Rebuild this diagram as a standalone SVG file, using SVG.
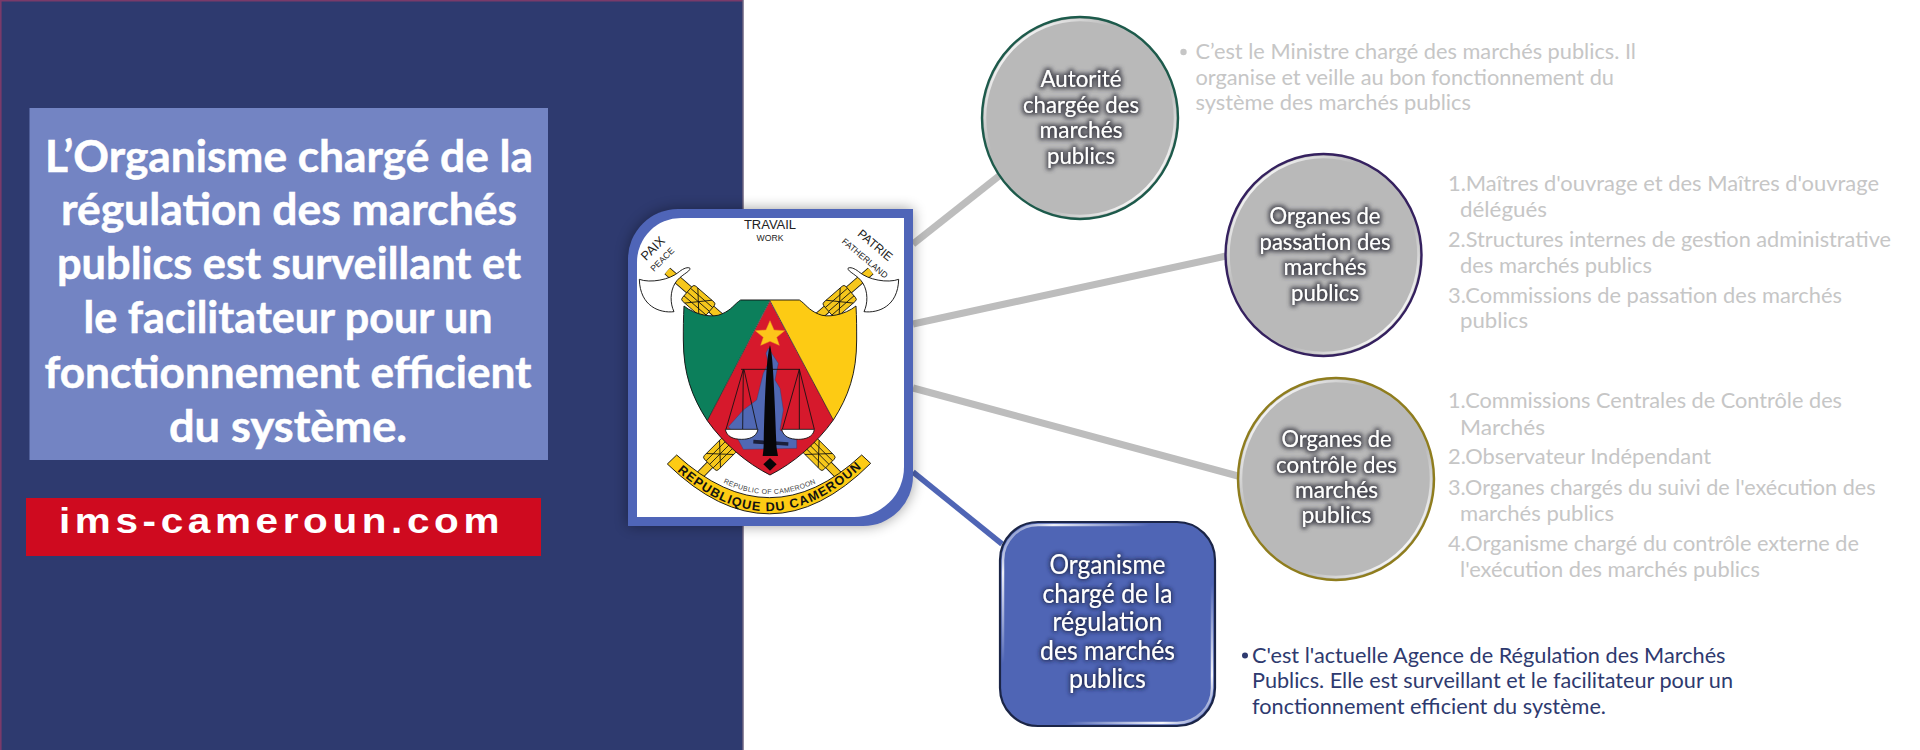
<svg xmlns="http://www.w3.org/2000/svg" width="1920" height="750" viewBox="0 0 1920 750">
<style>
text{font-family:Lato,"Liberation Sans",sans-serif}
.title{font-size:44px;font-weight:700;fill:#fff;text-anchor:middle;stroke:#fff;stroke-width:.5px}
.lab{font-size:23px;fill:#fff;text-anchor:middle;filter:url(#halo)}
.labw{font-size:26px;fill:#fff;text-anchor:middle;filter:url(#halob)}
.li{font-size:21px;fill:#c6c6c6}
.dk{font-size:21px;fill:#2e3a6f}
.bl{fill:#c6c6c6}
.con{stroke:#bdbdbd;stroke-width:7;fill:none}
.node{fill:#b9b9b9;stroke-width:2.4}
.ring{fill:none;stroke:url(#rim);stroke-width:2.5}
.ck{fill:none;stroke:#111;stroke-width:2.6}
.mot{fill:#222;font-family:"Liberation Sans",sans-serif}
.rib{fill:#111;font-family:"Liberation Sans",sans-serif;text-anchor:middle}
</style>
<defs>
<filter id="halo" x="-20%" y="-40%" width="140%" height="180%">
<feMorphology in="SourceAlpha" operator="dilate" radius="1.500" result="d"/>
<feGaussianBlur in="d" stdDeviation="2.200" result="b"/>
<feFlood flood-color="#3a3a44" flood-opacity=".85"/>
<feComposite in2="b" operator="in" result="s"/>
<feMerge><feMergeNode in="s"/><feMergeNode in="SourceGraphic"/></feMerge>
</filter>
<filter id="halob" x="-20%" y="-40%" width="140%" height="180%">
<feMorphology in="SourceAlpha" operator="dilate" radius="1" result="d"/>
<feGaussianBlur in="d" stdDeviation="2.200" result="b"/>
<feFlood flood-color="#1a2348" flood-opacity=".85"/>
<feComposite in2="b" operator="in" result="s"/>
<feMerge><feMergeNode in="s"/><feMergeNode in="SourceGraphic"/></feMerge>
</filter>
<filter id="frameS" x="-15%" y="-15%" width="130%" height="130%">
<feGaussianBlur stdDeviation="7"/>
</filter>
<linearGradient id="rim" x1="0" y1="0" x2="1" y2="1">
<stop offset="0" stop-color="#fff" stop-opacity=".1"/>
<stop offset=".12" stop-color="#fff" stop-opacity=".9"/>
<stop offset=".35" stop-color="#fff" stop-opacity="0"/>
<stop offset=".65" stop-color="#fff" stop-opacity="0"/>
<stop offset=".88" stop-color="#fff" stop-opacity=".95"/>
<stop offset="1" stop-color="#fff" stop-opacity=".1"/>
</linearGradient>
<g id="fasces">
<rect x="-44" y="-30" width="88" height="60" rx="8" fill="#f6c71c" stroke="#111" stroke-width="2.5"/>
<path d="M-44 -15H44M-44 0H44M-44 15H44M-28 -30L28 30M-28 30L28 -30" fill="none" stroke="#111" stroke-width="2.500"/>
</g>
<path id="arcS" d="M262 822Q450 942 636 822"/>
<path id="arcB" d="M150 793Q450 1080 748 780"/>
</defs>

<rect width="1920" height="750" fill="#fff"/>
<g id="left-panel">
<rect x="0" y="0" width="743" height="750" fill="#2e3a6f"/>
<path d="M.8 750V.8H743" fill="none" stroke="#7a3a6a" stroke-width="1.6"/>
<path d="M743 0V750" stroke="#6e6480" stroke-width="1.5"/>
</g>

<g id="title">
<rect x="29.500" y="108" width="518.500" height="352" fill="#7384c3"/>
<text class="title" x="289" y="172" textLength="488" lengthAdjust="spacingAndGlyphs">L’Organisme chargé de la</text>
<text class="title" x="289" y="225" textLength="456" lengthAdjust="spacingAndGlyphs">régulation des marchés</text>
<text class="title" x="289" y="279" textLength="464" lengthAdjust="spacingAndGlyphs">publics est surveillant et</text>
<text class="title" x="288" y="333" textLength="409" lengthAdjust="spacingAndGlyphs">le facilitateur pour un</text>
<text class="title" x="288" y="388" textLength="487" lengthAdjust="spacingAndGlyphs">fonctionnement efficient</text>
<text class="title" x="288" y="442" textLength="238" lengthAdjust="spacingAndGlyphs">du système.</text>
</g>

<g id="site">
<rect x="26" y="498" width="515" height="58" fill="#cf0a1f"/>
<text x="59" y="533" font-size="35" font-weight="700" fill="#fff" letter-spacing="4" textLength="445" lengthAdjust="spacingAndGlyphs" style="font-family:'Liberation Sans',sans-serif">ims-cameroun.com</text>
</g>

<g id="connectors">
<path class="con" d="M913 244L999 176"/>
<path class="con" d="M913 324L1226 256"/>
<path class="con" d="M913 388L1238 476"/>
<path class="con" d="M913 472L1002 544" style="stroke:#4f65b5;stroke-width:5.500"/>
</g>

<g id="crest">
<path d="M678 209H913V476A50 50 0 0 1 863 526H628V259A50 50 0 0 1 678 209Z" fill="#000" opacity=".38" filter="url(#frameS)"/>
<path d="M678 209H913V476A50 50 0 0 1 863 526H628V259A50 50 0 0 1 678 209Z" fill="#4f65b8"/>
<path d="M681 218H904V467A50 50 0 0 1 854 517H637V262A44 44 0 0 1 681 218Z" fill="#fff"/>
<g transform="translate(620 200) scale(.33333)">
<text class="mot" x="450" y="87" font-size="39" text-anchor="middle">TRAVAIL</text>
<text class="mot" x="450" y="124" font-size="26" text-anchor="middle">WORK</text>
<text class="mot" font-size="38" transform="translate(78 184) rotate(-45)">PAIX</text>
<text class="mot" font-size="26" transform="translate(102 216) rotate(-45)">PEACE</text>
<text class="mot" font-size="36" transform="translate(710 105) rotate(40)">PATRIE</text>
<text class="mot" font-size="26" transform="translate(664 127) rotate(40)">FATHERLAND</text>

<g id="axe-left">
<path d="M142 213L300 350" stroke="#111" stroke-width="26"/>
<path d="M142 213L300 350" stroke="#f6c71c" stroke-width="21"/>
<path d="M58 238C90 250 150 240 178 215C190 205 205 200 210 205C212 215 180 225 165 250C150 275 150 310 162 335C120 340 60 320 58 238Z" fill="#fff" stroke="#111" stroke-width="2.800"/>
<use href="#fasces" transform="translate(235 305) rotate(41)"/>
</g>
<g id="axe-right" transform="translate(894 0) scale(-1 1)">
<path d="M142 213L300 350" stroke="#111" stroke-width="26"/>
<path d="M142 213L300 350" stroke="#f6c71c" stroke-width="21"/>
<path d="M58 238C90 250 150 240 178 215C190 205 205 200 210 205C212 215 180 225 165 250C150 275 150 310 162 335C120 340 60 320 58 238Z" fill="#fff" stroke="#111" stroke-width="2.800"/>
<use href="#fasces" transform="translate(235 305) rotate(41)"/>
</g>

<path d="M240 825L345 718" stroke="#111" stroke-width="26"/>
<path d="M240 825L345 718" stroke="#f6c71c" stroke-width="21"/>
<path d="M655 825L550 718" stroke="#111" stroke-width="26"/>
<path d="M655 825L550 718" stroke="#f6c71c" stroke-width="21"/>
<use href="#fasces" transform="translate(300 762) rotate(-45)"/>
<use href="#fasces" transform="translate(596 762) rotate(45)"/>

<path d="M192 318C225 345 280 355 305 342C335 330 345 310 362 300H450L262 662C215 590 190 520 190 420Z" fill="#0c7f5b"/>
<path d="M708 318C675 345 620 355 595 342C565 330 555 310 538 300H450L640 660C685 590 710 520 710 420Z" fill="#fdcb14"/>
<path d="M450 304L640 660C590 730 520 790 450 825C380 790 310 730 262 662Z" fill="#d6192c"/>
<path d="M192 318C225 345 280 355 305 342C335 330 345 310 362 300H538C555 310 565 330 595 342C620 355 675 345 708 318C710 350 710 390 710 420C710 520 685 590 640 660C590 730 520 790 450 825C380 790 310 730 262 662C215 590 190 520 190 420C190 390 190 350 192 318Z" fill="none" stroke="#111" stroke-width="2.800"/>
<path d="M450 302L262 662M450 302L640 660" fill="none" stroke="#111" stroke-width="2"/>
<path d="M450 362L462 390L494 392L470 412L478 436L450 424L422 436L430 412L406 392L438 390Z" fill="#fdc51a" stroke="#f29a1a" stroke-width="1.500"/>

<path d="M445 445L475 490L465 540L480 565L490 630L480 690L530 720L530 745L370 748L350 710L325 680L370 630L410 600L430 520L445 490L438 460Z" fill="#5068b4" stroke="#2e3a6f" stroke-width="1.200"/>
<path d="M363 508H540" class="ck"/>
<path d="M370 508L318 688M370 508L368 688M372 508L412 688M538 508L487 688M538 508L538 688M538 508L583 688" class="ck"/>
<path d="M316 688H414C410 712 385 718 365 718C340 718 320 710 316 688Z" fill="#fff" stroke="#111" stroke-width="2.600"/>
<path d="M485 688H583C580 712 555 718 535 718C510 718 490 710 485 688Z" fill="#fff" stroke="#111" stroke-width="2.600"/>
<path d="M400 725L505 732" stroke="#1b1f3a" stroke-width="11"/>
<path d="M450 436C458 460 463 560 469 730C469 745 472 755 474 768L428 768C430 755 431 745 431 730C435 560 441 460 450 436Z" fill="#060608"/>
<path d="M450 774L470 793L450 812L430 793Z" fill="#060608"/>

<path d="M170 765L142 792Q450 1092 752 790L725 765Q450 1021 170 765Z" fill="#fdcb14" stroke="#111" stroke-width="2.800"/>
<text class="rib" font-size="21" letter-spacing="1" style="fill:#444"><textPath href="#arcS" startOffset="50%">REPUBLIC OF CAMEROON</textPath></text>
<text class="rib" font-size="38" letter-spacing="3.500" style="font-weight:700"><textPath href="#arcB" startOffset="50%">REPUBLIQUE DU CAMEROUN</textPath></text>
</g>
</g>

<g id="node-autorite">
<ellipse class="node" cx="1080" cy="118" rx="98" ry="101" stroke="#1d5a4b"/>
<ellipse class="ring" cx="1080" cy="118" rx="95" ry="98"/>
<text class="lab" x="1081" y="87" textLength="81" lengthAdjust="spacingAndGlyphs">Autorité</text>
<text class="lab" x="1081" y="113" textLength="116" lengthAdjust="spacingAndGlyphs">chargée des</text>
<text class="lab" x="1081" y="138" textLength="83" lengthAdjust="spacingAndGlyphs">marchés</text>
<text class="lab" x="1081" y="164" textLength="68" lengthAdjust="spacingAndGlyphs">publics</text>
<circle class="bl" cx="1183.500" cy="52" r="3.200"/>
<text class="li" x="1195.500" y="59" textLength="440.500" lengthAdjust="spacingAndGlyphs">C’est le Ministre chargé des marchés publics. Il</text>
<text class="li" x="1195.500" y="85" textLength="418.500" lengthAdjust="spacingAndGlyphs">organise et veille au bon fonctionnement du</text>
<text class="li" x="1195.500" y="110" textLength="275.500" lengthAdjust="spacingAndGlyphs">système des marchés publics</text>
</g>

<g id="node-passation">
<ellipse class="node" cx="1323.500" cy="255" rx="98" ry="101" stroke="#35215f"/>
<ellipse class="ring" cx="1323.500" cy="255" rx="95" ry="98"/>
<text class="lab" x="1325" y="224" textLength="111" lengthAdjust="spacingAndGlyphs">Organes de</text>
<text class="lab" x="1325" y="250" textLength="131" lengthAdjust="spacingAndGlyphs">passation des</text>
<text class="lab" x="1325" y="275" textLength="83" lengthAdjust="spacingAndGlyphs">marchés</text>
<text class="lab" x="1325" y="301" textLength="68" lengthAdjust="spacingAndGlyphs">publics</text>
<text class="li" x="1448" y="191" textLength="431" lengthAdjust="spacingAndGlyphs">1.Maîtres d'ouvrage et des Maîtres d'ouvrage</text>
<text class="li" x="1460" y="217" textLength="87" lengthAdjust="spacingAndGlyphs">délégués</text>
<text class="li" x="1448" y="247" textLength="443" lengthAdjust="spacingAndGlyphs">2.Structures internes de gestion administrative</text>
<text class="li" x="1460" y="273" textLength="192" lengthAdjust="spacingAndGlyphs">des marchés publics</text>
<text class="li" x="1448" y="303" textLength="394" lengthAdjust="spacingAndGlyphs">3.Commissions de passation des marchés</text>
<text class="li" x="1460" y="328" textLength="68" lengthAdjust="spacingAndGlyphs">publics</text>
</g>

<g id="node-controle">
<ellipse class="node" cx="1336" cy="479" rx="98" ry="101" stroke="#8f7d1e"/>
<ellipse class="ring" cx="1336" cy="479" rx="95" ry="98"/>
<text class="lab" x="1336.500" y="447" textLength="110" lengthAdjust="spacingAndGlyphs">Organes de</text>
<text class="lab" x="1336.500" y="473" textLength="121" lengthAdjust="spacingAndGlyphs">contrôle des</text>
<text class="lab" x="1336.500" y="498" textLength="83" lengthAdjust="spacingAndGlyphs">marchés</text>
<text class="lab" x="1336.500" y="523" textLength="70" lengthAdjust="spacingAndGlyphs">publics</text>
<text class="li" x="1448" y="408" textLength="394" lengthAdjust="spacingAndGlyphs">1.Commissions Centrales de Contrôle des</text>
<text class="li" x="1460" y="435" textLength="85" lengthAdjust="spacingAndGlyphs">Marchés</text>
<text class="li" x="1448" y="464" textLength="263" lengthAdjust="spacingAndGlyphs">2.Observateur Indépendant</text>
<text class="li" x="1448" y="495" textLength="427.500" lengthAdjust="spacingAndGlyphs">3.Organes chargés du suivi de l'exécution des</text>
<text class="li" x="1460" y="521" textLength="154" lengthAdjust="spacingAndGlyphs">marchés publics</text>
<text class="li" x="1448" y="551" textLength="411" lengthAdjust="spacingAndGlyphs">4.Organisme chargé du contrôle externe de</text>
<text class="li" x="1460" y="577" textLength="300" lengthAdjust="spacingAndGlyphs">l'exécution des marchés publics</text>
</g>

<g id="node-regulation">
<rect x="1000" y="522" width="215" height="204" rx="38" fill="#4f65b5" stroke="#1b2547" stroke-width="2.200"/>
<rect x="1003" y="525" width="209" height="198" rx="35" class="ring"/>
<text class="labw" x="1107.500" y="574" textLength="116" lengthAdjust="spacingAndGlyphs">Organisme</text>
<text class="labw" x="1107.500" y="603" textLength="130" lengthAdjust="spacingAndGlyphs">chargé de la</text>
<text class="labw" x="1107.500" y="631" textLength="110" lengthAdjust="spacingAndGlyphs">régulation</text>
<text class="labw" x="1107.500" y="660" textLength="135" lengthAdjust="spacingAndGlyphs">des marchés</text>
<text class="labw" x="1107.500" y="688" textLength="77" lengthAdjust="spacingAndGlyphs">publics</text>
<circle cx="1245" cy="655.500" r="3" fill="#2e3a6f"/>
<text class="dk" x="1252" y="663" textLength="473.500" lengthAdjust="spacingAndGlyphs">C'est l'actuelle Agence de Régulation des Marchés</text>
<text class="dk" x="1252" y="688" textLength="481" lengthAdjust="spacingAndGlyphs">Publics. Elle est surveillant et le facilitateur pour un</text>
<text class="dk" x="1252" y="714" textLength="354" lengthAdjust="spacingAndGlyphs">fonctionnement efficient du système.</text>
</g>
</svg>
